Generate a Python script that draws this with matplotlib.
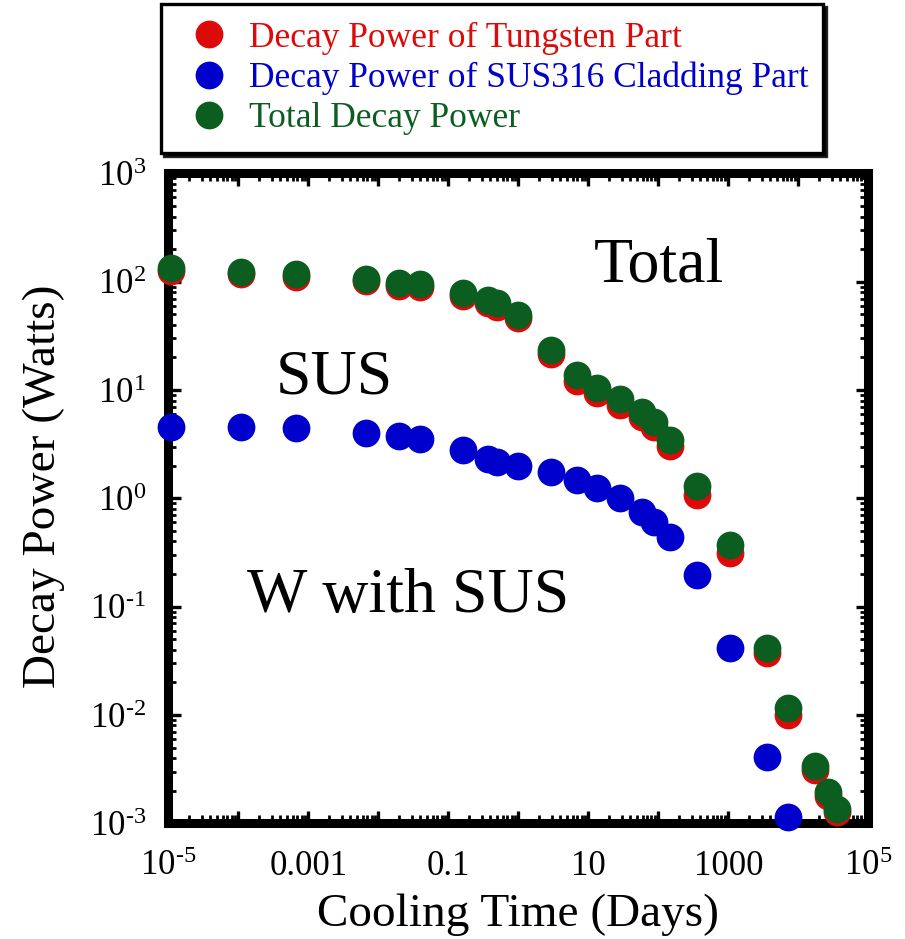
import numpy as np
import matplotlib
matplotlib.use('Agg')
import matplotlib.pyplot as plt
from matplotlib.ticker import FixedLocator, LogLocator, NullFormatter

plt.rcParams['font.family'] = ['Liberation Serif', 'DejaVu Serif']
plt.rcParams['mathtext.fontset'] = 'custom'
plt.rcParams['mathtext.rm'] = 'Liberation Serif'
plt.rcParams['mathtext.it'] = 'Liberation Serif'

# cooling time in days
time_days = [1.1e-5, 1.1e-4, 6.7e-4, 6.7e-3, 0.02, 0.04, 0.16, 0.37, 0.49, 0.98,
             2.9, 6.8, 13.5, 28.7, 59, 86, 147, 357, 1070, 3570, 7130, 17300,
             26300, 35400]

# decay power in watts
total_w = [133, 124, 117, 107, 98, 95, 79, 68, 63.6, 49.8, 23.5, 13.7, 10.4,
           8.2, 6.3, 5.1, 3.45, 1.29, 0.37, 0.0417, 0.0115, 0.00337, 0.00195,
           0.00137]
tungsten_w = [126, 117, 110, 101, 92, 89, 74.6, 63.6, 59, 46.2, 21.5, 12.2, 9.4,
              7.35, 5.63, 4.55, 3.07, 1.07, 0.31, 0.0375, 0.0100, 0.0031, 0.0018,
              0.00127]
sus_w = [4.58, 4.53, 4.43, 3.98, 3.76, 3.54, 2.77, 2.31, 2.18, 1.97, 1.76, 1.48,
         1.25, 1.0, 0.752, 0.608, 0.439, 0.198, 0.0417, 0.00406, 0.00115]

labels = ['Decay Power of Tungsten Part',
          'Decay Power of SUS316 Cladding Part',
          'Total Decay Power']
colors = ['#dd0a0a', '#0000cc', '#0b5e1f']

xticks = [1e-5, 1e-4, 1e-3, 1e-2, 1e-1, 1, 10, 100, 1000, 1e4, 1e5]
xticklabels = [r'$10^{\text{-}5}$', '', '0.001', '', '0.1', '', '10', '', '1000', '',
               '$10^{5}$']
yticks = [1e-3, 1e-2, 1e-1, 1, 10, 100, 1000]
yticklabels = [r'$10^{\text{-}3}$', r'$10^{\text{-}2}$', r'$10^{\text{-}1}$',
               '$10^{0}$', '$10^{1}$', '$10^{2}$', '$10^{3}$']

fig = plt.figure(figsize=(9.05, 9.39), dpi=100)
ax = fig.add_axes([0.186, 0.1232, 0.7734, 0.6921])

ms = 20
ax.plot(time_days, tungsten_w, ls='none', marker='o', ms=ms, mfc=colors[0],
        mec='none', clip_on=False, label=labels[0], zorder=3)
ax.plot(time_days[:len(sus_w)], sus_w, ls='none', marker='o', ms=ms, mfc=colors[1],
        mec='none', clip_on=False, label=labels[1], zorder=4)
ax.plot(time_days, total_w, ls='none', marker='o', ms=ms, mfc=colors[2],
        mec='none', clip_on=False, label=labels[2], zorder=5)

ax.set_xscale('log')
ax.set_yscale('log')
ax.set_xlim(1e-5, 1e5)
ax.set_ylim(1e-3, 1e3)

ax.xaxis.set_major_locator(FixedLocator(xticks))
ax.set_xticklabels(xticklabels)
ax.yaxis.set_major_locator(FixedLocator(yticks))
ax.set_yticklabels(yticklabels)
for axis in [ax.xaxis, ax.yaxis]:
    axis.set_minor_locator(LogLocator(base=10, subs=np.arange(2, 10), numticks=100))
    axis.set_minor_formatter(NullFormatter())

ax.tick_params(which='both', direction='in', top=True, right=True, labelsize=25)
ax.tick_params(which='major', length=9, width=2.4)
ax.tick_params(which='minor', length=5.5, width=2.0)
ax.tick_params(axis='x', which='major', pad=19)
ax.tick_params(axis='y', which='major', pad=16)
for sp in ax.spines.values():
    sp.set_linewidth(6.5)

ax.set_xlabel('Cooling Time (Days)', fontsize=34, labelpad=7.5)
ax.set_ylabel('Decay Power (Watts)', fontsize=34)
ax.yaxis.set_label_coords(-0.148, 0.519)

ax.text(11.8, 100, 'Total', fontsize=46, ha='left', va='baseline')
ax.text(3.46e-4, 9.3, 'SUS', fontsize=46, ha='left', va='baseline')
ax.text(1.32e-4, 0.0897, 'W with SUS', fontsize=46, ha='left', va='baseline')

leg = fig.legend(loc='upper left', bbox_to_anchor=(0.178, 0.838, 0.7316, 0.1578),
                 mode='expand', fontsize=25.5, labelcolor='markerfacecolor',
                 frameon=True, fancybox=False, shadow={'color': 'k', 'alpha': 0.85},
                 markerscale=1.0, handlelength=1.73, handletextpad=0.24,
                 borderpad=0.5, labelspacing=0.2, borderaxespad=0)
leg.get_frame().set_edgecolor('k')
leg.get_frame().set_linewidth(2.4)

plt.savefig('out.png', dpi=100)
